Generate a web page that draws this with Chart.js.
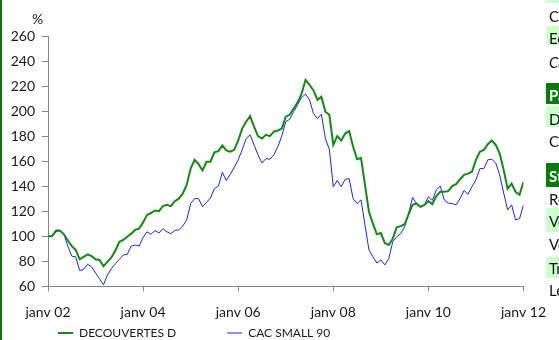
<!DOCTYPE html>
<html>
<head>
<meta charset="utf-8">
<script src="https://cdn.jsdelivr.net/npm/chart.js@4/dist/chart.umd.min.js"></script>
<style>
  html, body { margin:0; padding:0; background:#fff; width:559px; height:340px; overflow:hidden; }
  #wrap { position:relative; width:559px; height:340px; overflow:hidden; }
  #c { position:absolute; left:0; top:0; }
  #edge { position:absolute; left:0; top:0; width:2px; height:340px; background:#0a7a0a; }
  #side { position:absolute; left:546px; top:0; width:300px; height:340px; font-family:Lato, sans-serif; font-size:15px; color:#111; }
  #side .bg { position:absolute; left:0; width:300px; }
  #side .lt { background:#ccffcc; }
  #side .dk { background:#0a7a0a; }
  #side .t { position:absolute; left:3px; height:20px; line-height:20px; white-space:nowrap; }
</style>
</head>
<body>
<div id="wrap">
  <canvas id="c" width="559" height="340"></canvas>
  <div id="edge"></div>
  <div id="side">
    <div class="bg lt" style="top:-20px;height:23px"></div>
    <div class="t" style="top:6px">Code ISIN</div>
    <div class="bg lt" style="top:26px;height:19px"></div>
    <div class="t" style="top:28px">Echelle de risque</div>
    <div class="t" style="top:52px;font-style:italic">Calcul</div>
    <div class="bg dk" style="top:83px;height:21px"></div>
    <div class="t" style="top:85px;color:#fff;font-weight:bold">Parts</div>
    <div class="bg lt" style="top:106px;height:21px"></div>
    <div class="t" style="top:109px">DECOUVERTES D</div>
    <div class="t" style="top:131px">CAC SMALL 90</div>
    <div class="bg dk" style="top:163px;height:24px"></div>
    <div class="t" style="top:166px;color:#fff;font-weight:bold">Statistiques</div>
    <div class="t" style="top:189px">Rendement</div>
    <div class="bg lt" style="top:208px;height:24px"></div>
    <div class="t" style="top:211px">Volatilité</div>
    <div class="t" style="top:234px">Volatilité indice</div>
    <div class="bg lt" style="top:257px;height:21px"></div>
    <div class="t" style="top:258px">Tracking error</div>
    <div class="t" style="top:280px">Le ratio</div>
  </div>
</div>
<script>
// ---- data (monthly, janv 2002 .. janv 2012, base 100) ----
const seriesNames = ["DECOUVERTES D", "CAC SMALL 90"];
const decouvertes = [
  100,100,104,104.5,101.5,96.5,92,89,81.5,83.5,85.5,84,
  81.5,81,76,79.5,83,88.5,95.5,97,99.5,102,105,106,
  111,117,118.5,120.5,120,124,125,124,128,130,134,141,
  154,161,157.5,152.5,159.5,159.5,167,168,172.5,168.5,167.5,169,
  176.5,186,191.5,196,187.5,180,178,181,180,183.5,184.5,186,
  195.5,197,202,207,214,225,221,216.5,209,211.5,199.5,197,
  173,180,176.5,182,184,171.5,161.5,162.5,141,119.5,110,101.5,
  102.5,94.5,93,98,107,108,109.5,117.5,125,126,123.5,125,
  128,125.5,132,135.5,135.5,136,140,141.5,145.5,149,150,151.5,
  161,167.5,169,173.5,176.5,173,166,153,138,142,135.5,133,
  143.5
];
const cacSmall90 = [
  100,100,105,104.5,102,92,84,83.5,72.5,73.5,77.5,75.5,
  70.5,66,61,69,74,78,81.5,85,85.5,92,93,92,
  99,103.5,101.5,104.5,102.5,106,103.5,102,104.5,105,108,113,
  126,130,130,123.5,127,130.5,138,140,151,144.5,149.5,155,
  161,169,178,181,173,165,158.5,162,161.5,165,171.5,180,
  191.5,193.5,199.5,205,211,213.5,209,198,194,197.5,178,169.5,
  139.5,144.5,139.5,145.5,146,130,126,129,109,89,83.5,78.5,
  81,77,82,95.5,99.5,102,107.5,118,131,126,123.5,125,
  131.5,128.5,137,140,129,126.5,126,125,130,136.5,133.5,139.5,
  145,154,154,161,161.5,158.5,149,134.5,121,125,113,114,
  125
];
const tickLabels = ["janv 02","janv 04","janv 06","janv 08","janv 10","janv 12"];
const yTitle = "%";

const FONT = "Lato, 'Open Sans', sans-serif";
const AXIS = "#868686";
const TEXT = "#1a1a1a";

const toXY = arr => arr.map((v, i) => ({x: i, y: v}));

const extras = {
  id: 'extras',
  afterDraw(chart) {
    const ctx = chart.ctx;
    ctx.save();
    ctx.fillStyle = TEXT;
    ctx.font = "14px " + FONT;
    ctx.textAlign = "center";
    ctx.textBaseline = "middle";
    ctx.fillText(yTitle, 37.5, 19);
    ctx.font = "12px " + FONT;
    ctx.textAlign = "left";
    let x = 58;
    const y = 333;
    chart.data.datasets.forEach((ds) => {
      ctx.strokeStyle = ds.borderColor;
      ctx.lineWidth = ds.borderWidth;
      ctx.beginPath();
      ctx.moveTo(x, y);
      ctx.lineTo(x + 15, y);
      ctx.stroke();
      ctx.fillStyle = TEXT;
      ctx.fillText(ds.label, x + 21, y);
      x += 21 + ctx.measureText(ds.label).width + 51;
    });
    ctx.restore();
  }
};

new Chart(document.getElementById('c'), {
  type: 'line',
  data: {
    datasets: [
      { label: seriesNames[0], data: toXY(decouvertes), borderColor: '#138a13', backgroundColor: '#138a13', borderWidth: 2 },
      { label: seriesNames[1], data: toXY(cacSmall90), borderColor: '#1f1fff', backgroundColor: '#1f1fff', borderWidth: 1 }
    ]
  },
  options: {
    responsive: false,
    animation: false,
    devicePixelRatio: 1,
    layout: { padding: { left: 0, right: 22, top: 36, bottom: 6 } },
    elements: { point: { radius: 0 }, line: { tension: 0 } },
    plugins: { legend: { display: false }, tooltip: { enabled: false } },
    scales: {
      x: {
        type: 'linear', min: 0, max: 120,
        ticks: { stepSize: 24, autoSkip: false, maxRotation: 0, padding: 13,
                 color: TEXT, font: { family: FONT, size: 14 },
                 callback: (v) => tickLabels[v / 24] },
        grid: { drawOnChartArea: false, tickLength: 5, color: AXIS },
        border: { color: AXIS }
      },
      y: {
        min: 60, max: 260,
        ticks: { stepSize: 20, padding: 7, color: TEXT, font: { family: FONT, size: 14 } },
        grid: { drawOnChartArea: false, tickLength: 6, color: AXIS },
        border: { color: AXIS },
        afterFit: (s) => { s.width = 48; }
      }
    }
  },
  plugins: [extras]
});
</script>
</body>
</html>
